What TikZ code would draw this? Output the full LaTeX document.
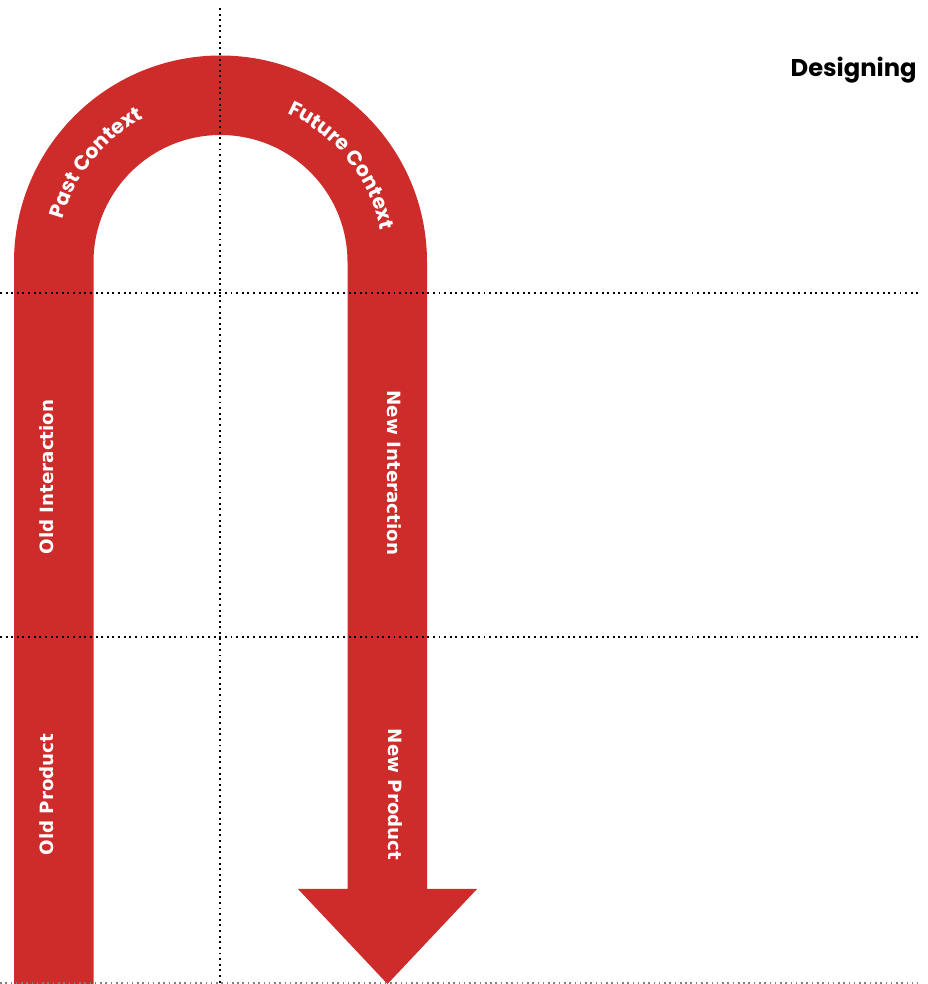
\documentclass[tikz,border=0pt]{standalone}
\usepackage{fontspec}
\newfontfamily\headfont{Poppins}
\newfontfamily\bandfont{DejaVu Sans}
\usetikzlibrary{calc,positioning,decorations.text}

\definecolor{bandred}{RGB}{206,43,43}

\tikzset{
  gridline/.style={line width=1.1pt,dash pattern=on 1.1pt off 2.1pt},
  floorline/.style={gray,line width=0.7pt,dash pattern=on 0.9pt off 2.1pt},
  bandlabel/.style={font=\bandfont\bfseries\fontsize{10.4}{12}\selectfont,text=white},
  arclabel/.style={decorate,decoration={text along path,text align=center,text color=white,
    text={|\headfont\bfseries\fontsize{11.6}{13}\selectfont|#1}}}
}

\begin{document}
\begin{tikzpicture}[x=0.02cm,y=0.02cm,inner sep=0mm]
\useasboundingbox (0,0) rectangle (927,984);

\coordinate (c) at (220.5,722); %srodek luku
\coordinate (l1) at (14,0); %lewy pas zewn.
\coordinate (l2) at (93.5,0); %lewy pas wewn.
\coordinate (r1) at (427,95); %prawy pas zewn.
\coordinate (r2) at (347.5,95); %prawy pas wewn.
\coordinate (a1) at (477,95); %grot prawo
\coordinate (a2) at (298,95); %grot lewo
\coordinate (a3) at (387.5,0); %grot czubek

% the bent arrow
\fill [bandred] (l1) -- (14,722) arc[start angle=180,end angle=0,radius=206.5]
  -- (r1) -- (a1) -- (a3) -- (a2) -- (r2) -- (347.5,722)
  arc[start angle=0,end angle=180,radius=127] -- (l2) -- cycle;

% dotted grid
\draw [gridline] (220,976) -- (220,0);
\draw [gridline] (0,691) -- (918,691);
\draw [gridline] (0,347) -- (918,347);
\draw [floorline] (0,1) -- (918,1);

% labels on the arch
\path [arclabel=Past Context] ($(c)+(178:163)$) arc[start angle=178,end angle=105,radius=163];
\path [arclabel=Future Context] ($(c)+(75:163)$) arc[start angle=75,end angle=2,radius=163];

% labels on the bands
\node [bandlabel,rotate=90] (oldint) at (47,507) {Old Interaction};
\node [bandlabel,rotate=90] (oldprod) at (47,189.5) {Old Product};
\node [bandlabel,rotate=-90] (newint) at (394,511) {New Interaction};
\node [bandlabel,rotate=-90] (newprod) at (395,189.5) {New Product};

\node [anchor=base east,font=\headfont\bfseries\fontsize{13.8}{16}\selectfont] (title) at (917,907) {Designing};
\end{tikzpicture}
\end{document}
